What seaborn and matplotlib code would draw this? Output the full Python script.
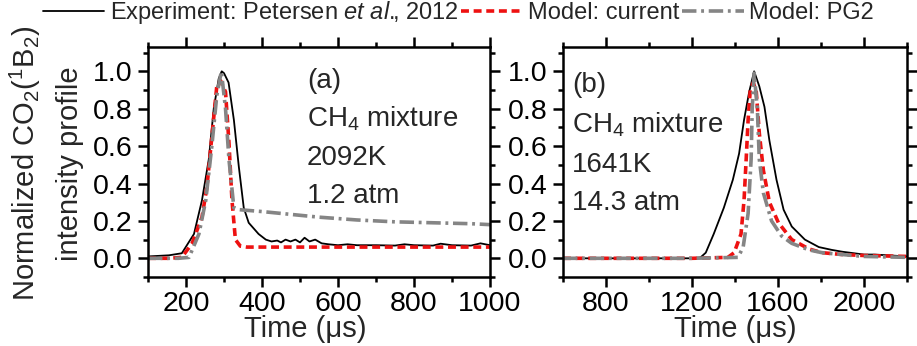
import numpy as np
import pandas as pd
import matplotlib
matplotlib.use("Agg")
import matplotlib.pyplot as plt
from matplotlib.ticker import MultipleLocator, FormatStrFormatter
from matplotlib.lines import Line2D
import seaborn as sns

# ---------------- data ----------------
# Panel (a): 2092 K, 1.2 atm
a_exp_t = [100, 155, 189, 221, 242, 260, 273, 286, 294, 300, 312, 326, 339, 352, 365, 391, 410, 425,
           440, 450, 462, 475, 488, 500, 512, 525, 540, 557, 575, 600, 625, 650, 700, 750, 775, 800,
           850, 870, 900, 950, 975, 1000]
a_exp_v = [0.01, 0.016, 0.027, 0.13, 0.31, 0.53, 0.80, 0.96, 1.0, 0.99, 0.94, 0.74, 0.49, 0.27, 0.19,
           0.13, 0.10, 0.09, 0.095, 0.085, 0.10, 0.09, 0.10, 0.085, 0.11, 0.09, 0.10, 0.08, 0.075, 0.07,
           0.075, 0.07, 0.07, 0.068, 0.075, 0.07, 0.068, 0.078, 0.07, 0.068, 0.08, 0.07]
a_cur_t = [100, 155, 189, 216, 242, 255, 268, 281, 291, 304, 313, 321, 330, 343, 360, 400, 600, 800, 1000]
a_cur_v = [0.0, 0.0, 0.005, 0.08, 0.22, 0.38, 0.65, 0.92, 0.95, 0.89, 0.62, 0.31, 0.10, 0.065, 0.06,
           0.06, 0.06, 0.06, 0.06]
a_pg2_t = [100, 180, 208, 234, 252, 268, 281, 293, 304, 313, 326, 340, 400, 450, 550, 650, 750, 850, 950, 1000]
a_pg2_v = [0.0, 0.0, 0.005, 0.13, 0.31, 0.60, 0.87, 1.0, 0.80, 0.53, 0.27, 0.26, 0.25, 0.24, 0.22,
           0.205, 0.195, 0.19, 0.185, 0.18]

# Panel (b): 1641 K, 14.3 atm
b_exp_t = [600, 1000, 1200, 1240, 1264, 1301, 1348, 1390, 1419, 1442, 1466, 1489, 1513, 1537, 1560,
           1593, 1626, 1664, 1725, 1790, 1850, 1900, 2000, 2050, 2200]
b_exp_v = [0.0, 0.0, 0.0, 0.005, 0.03, 0.13, 0.27, 0.42, 0.56, 0.74, 0.89, 1.0, 0.92, 0.81, 0.63,
           0.42, 0.26, 0.17, 0.10, 0.06, 0.045, 0.035, 0.02, 0.02, 0.01]
b_cur_t = [600, 1200, 1367, 1396, 1428, 1442, 1452, 1461, 1471, 1485, 1499, 1513, 1532, 1560, 1602,
           1664, 1744, 1805, 1900, 2000, 2200]
b_cur_v = [0.0, 0.0, 0.005, 0.03, 0.13, 0.31, 0.53, 0.74, 0.90, 0.94, 0.89, 0.67, 0.47, 0.30, 0.19,
           0.10, 0.05, 0.03, 0.02, 0.015, 0.01]
b_pg2_t = [600, 1200, 1414, 1438, 1461, 1475, 1480, 1489, 1504, 1513, 1532, 1570, 1616, 1664, 1744,
           1805, 1900, 2000, 2200]
b_pg2_v = [0.0, 0.0, 0.005, 0.06, 0.24, 0.53, 0.80, 0.99, 0.80, 0.53, 0.35, 0.20, 0.12, 0.08, 0.045,
           0.03, 0.02, 0.01, 0.005]

legend_labels = ["Experiment: Petersen $\\it{et\\ al.}\\!\\!$, 2012", "Model: current", "Model: PG2"]
panel_a_text = ["(a)", "CH$_4$ mixture", "2092K", "1.2 atm"]
panel_b_text = ["(b)", "CH$_4$ mixture", "1641K", "14.3 atm"]

# ---------------- style ----------------
sns.set_style("ticks")
plt.rcParams["font.family"] = ["Liberation Sans", "DejaVu Sans"]
plt.rcParams["mathtext.fontset"] = "custom"
plt.rcParams["mathtext.rm"] = "Liberation Sans"
plt.rcParams["mathtext.it"] = "Liberation Sans:italic"
plt.rcParams["mathtext.bf"] = "Liberation Sans:bold"

FS_TICK = 20.5
FS_LAB = 21
FS_ANN = 20
C_EXP = "black"
C_CUR = "#ee1111"
C_PG2 = "#858585"
LS_CUR = (0, (2.2, 1.3))
LS_PG2 = (0, (4, 1.3, 0.8, 1.3))

fig = plt.figure(figsize=(9.17, 3.46), dpi=100)
ax_a = fig.add_axes([148 / 917, 1 - 277 / 346, 342 / 917, 230 / 346])
ax_b = fig.add_axes([563 / 917, 1 - 277 / 346, 344 / 917, 230 / 346])


def draw(ax, et, ev, ct, cv, pt, pv):
    sns.lineplot(x=et, y=ev, ax=ax, color=C_EXP, lw=1.3, estimator=None, sort=False)
    sns.lineplot(x=ct, y=cv, ax=ax, color=C_CUR, lw=2.6, linestyle=LS_CUR, estimator=None, sort=False)
    sns.lineplot(x=pt, y=pv, ax=ax, color=C_PG2, lw=2.6, linestyle=LS_PG2, estimator=None, sort=False)


draw(ax_a, a_exp_t, a_exp_v, a_cur_t, a_cur_v, a_pg2_t, a_pg2_v)
draw(ax_b, b_exp_t, b_exp_v, b_cur_t, b_cur_v, b_pg2_t, b_pg2_v)

ax_a.set_xlim(100, 1000)
ax_b.set_xlim(600, 2200)
ax_a.xaxis.set_major_locator(MultipleLocator(200))
ax_a.xaxis.set_minor_locator(MultipleLocator(100))
ax_b.xaxis.set_major_locator(MultipleLocator(400))
ax_b.xaxis.set_minor_locator(MultipleLocator(200))

for ax, xc in ((ax_a, (305 - 148) / 342), (ax_b, 0.5)):
    ax.set_ylim(-0.1, 1.13)
    ax.yaxis.set_major_locator(MultipleLocator(0.2))
    ax.yaxis.set_minor_locator(MultipleLocator(0.1))
    ax.yaxis.set_major_formatter(FormatStrFormatter("%.1f"))
    for s in ax.spines.values():
        s.set_visible(True)
        s.set_linewidth(1.8)
        s.set_color("black")
    ax.tick_params(which="both", direction="out", top=True, right=True, width=1.8,
                   labelsize=FS_TICK, colors="black")
    ax.tick_params(which="major", length=7)
    ax.tick_params(which="minor", length=3.6)
    ax.tick_params(axis="x", pad=3.0)
    ax.tick_params(axis="y", pad=4.3)
    ax.set_xlabel("Time (μs)", fontsize=FS_LAB, va="top")
    ax.xaxis.set_label_coords(xc, (277 - 315) / 230)
    ax.set_ylabel("")

fig.text(25 / 917, 0.5275, "Normalized CO$_2$($^1$B$_2$)", rotation=90, ha="center", va="center",
         fontsize=FS_LAB)
fig.text(70 / 917, 0.5275, "intensity profile", rotation=90, ha="center", va="center", fontsize=FS_LAB)

ya_list = [0.822, 0.6565, 0.487, 0.322]
yb_list = [0.804, 0.630, 0.4565, 0.291]
for i in range(4):
    ax_a.text(0.465, ya_list[i], panel_a_text[i], transform=ax_a.transAxes, fontsize=FS_ANN,
              va="baseline", ha="left")
    ax_b.text(0.026, yb_list[i], panel_b_text[i], transform=ax_b.transAxes, fontsize=FS_ANN,
              va="baseline", ha="left")

handles = [Line2D([], [], color=C_EXP, lw=1.3),
           Line2D([], [], color=C_CUR, lw=2.6, linestyle=LS_CUR),
           Line2D([], [], color=C_PG2, lw=2.6, linestyle=LS_PG2)]
fig.legend(handles, legend_labels, loc="upper center", bbox_to_anchor=(0.5, 1.03), ncol=3,
           frameon=False, fontsize=17, handlelength=2.6, handletextpad=0.25, columnspacing=0.1,
           borderaxespad=0)

fig.savefig("out.png", dpi=100)
